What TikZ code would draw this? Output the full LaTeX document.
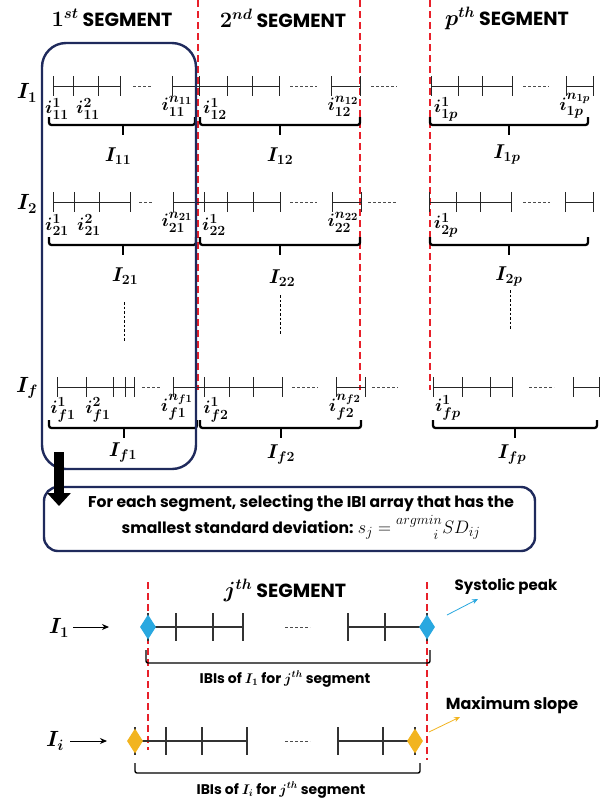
\RequirePackage{fix-cm}
\documentclass[tikz,border=0pt]{standalone}
\usepackage{amsmath}
\usepackage{fontspec}
\setmainfont{Poppins}
\usetikzlibrary{arrows.meta,shapes.geometric}
\DeclareMathSizes{18}{18}{14}{11}
\DeclareMathSizes{20}{20}{14}{11}
\DeclareMathSizes{22}{22}{15}{11}
\definecolor{navy}{HTML}{1F2A5C}
\definecolor{segred}{HTML}{E8202A}
\definecolor{dblue}{HTML}{29A8E0}
\definecolor{dyellow}{HTML}{F2B41F}
\tikzset{
  seg/.style={line width=0.7pt, black!85},
  gaps/.style={line width=0.7pt, black!70, dash pattern=on 3pt off 2pt},
  vdots/.style={line width=0.6pt, black, dash pattern=on 2.5pt off 2pt},
  bracestyle/.style={line width=2.3pt, rounded corners=2.5pt},
  redline/.style={segred, line width=1.6pt, dash pattern=on 7pt off 4pt},
  navybox/.style={draw=navy, line width=2.4pt},
  lab/.style={font=\fontsize{18}{18}\selectfont\boldmath, inner sep=0pt},
  big/.style={font=\fontsize{22}{22}\selectfont\boldmath, inner sep=0pt},
  mid/.style={font=\fontsize{20}{20}\selectfont\boldmath, inner sep=0pt},
  title/.style={font=\fontsize{19}{19}\selectfont\bfseries\boldmath, inner sep=0pt},
  small/.style={font=\fontsize{14}{14}\selectfont\bfseries\boldmath, inner sep=0pt},
  note/.style={font=\fontsize{15}{15}\selectfont\bfseries, inner sep=0pt},
  lseg/.style={line width=1.3pt, black!80},
  lgaps/.style={line width=0.8pt, black!70, dash pattern=on 3pt off 2pt},
  bracket/.style={line width=1.4pt, rounded corners=2pt},
  dia/.style={diamond, minimum width=16pt, minimum height=25pt, inner sep=0pt, draw=none},
}
% y, x-start, x-end, tick list
\newcommand\ibirun[4]{%
  \draw[seg] (#2,#1) -- (#3,#1);
  \foreach \xx in {#4} {\draw[seg] (\xx,{#1-10}) -- (\xx,{#1+10});}}
\newcommand\gapline[3]{\draw[gaps] (#2,#1) -- (#3,#1);}
% y, x1, x2, middle
\newcommand\ibrace[4]{%
  \draw[bracestyle] (#2,{#1-8}) -- (#2,#1) -- (#3,#1) -- (#3,{#1-8});
  \draw[line width=2.3pt] (#4,#1) -- (#4,{#1+10});}
\newcommand\lrun[4]{%
  \draw[lseg] (#2,#1) -- (#3,#1);
  \foreach \xx in {#4} {\draw[lseg] (\xx,{#1-14}) -- (\xx,{#1+14});}}
\newcommand\tmath[1]{{\fontsize{22}{22}\selectfont$#1$}}
\begin{document}
\begin{tikzpicture}[x=1pt,y=-1pt]
\useasboundingbox[fill=white] (0,0) rectangle (613,804);

% titles
\node[title] (t1) at (112,18) {\tmath{\mathbf{1}^{st}} SEGMENT};
\node[title] (t2) at (283,18) {\tmath{\mathbf{2}^{nd}} SEGMENT};
\node[title] (tp) at (507,18) {\tmath{p^{th}} SEGMENT};

% red separators
\draw[redline] (198,0) -- (198,390);
\draw[redline] (360,0) -- (360,390);
\draw[redline] (430,0) -- (430,390);

% row labels
\node[big] (I1) at (27,93) {$I_1$};
\node[big] (I2) at (27,204) {$I_2$};
\node[big] (If) at (27,388) {$I_f$};

% ---------- row 1 ----------
\ibirun{86}{53}{120}{53,73,98,120}
\gapline{86}{133}{152}
\ibirun{86}{172}{279}{172,199,227,252,279}
\gapline{86}{290}{317}
\ibirun{86}{331}{360}{331,360}
\gapline{86}{371}{397}
\ibirun{86}{431}{512}{431,458,482,512}
\gapline{86}{523}{549}
\ibirun{86}{566}{593}{566,593}

\node[lab] (i111) at (57,109) {$i_{11}^{1}$};
\node[lab] (i112) at (88,109) {$i_{11}^{2}$};
\node[lab] (i11n) at (177,106) {$i_{11}^{n_{11}}$};
\node[lab] (i121) at (215,109) {$i_{12}^{1}$};
\node[lab] (i12n) at (343,106) {$i_{12}^{n_{12}}$};
\node[lab] (i1p1) at (446,109) {$i_{1p}^{1}$};
\node[lab] (i1pn) at (575,106) {$i_{1p}^{n_{1p}}$};

\ibrace{125}{49}{195}{123}
\ibrace{125}{200}{360}{280}
\ibrace{125}{430}{588}{509}
\node[mid] (I11) at (118,156) {$I_{11}$};
\node[mid] (I12) at (280,156) {$I_{12}$};
\node[mid] (I1p) at (507,154) {$I_{1p}$};

% ---------- row 2 ----------
\ibirun{202}{53}{130}{53,74,99,130}
\gapline{202}{139}{153}
\ibirun{202}{173}{280}{173,204,227,253,280}
\gapline{202}{290}{317}
\ibirun{202}{332}{361}{332,361}
\gapline{202}{368}{396}
\ibirun{202}{429}{511}{429,456,480,511}
\gapline{202}{523}{550}
\ibirun{202}{565}{593}{565,593}

\node[lab] (i211) at (57,225) {$i_{21}^{1}$};
\node[lab] (i212) at (89,225) {$i_{21}^{2}$};
\node[lab] (i21n) at (177,222) {$i_{21}^{n_{21}}$};
\node[lab] (i221) at (214,225) {$i_{22}^{1}$};
\node[lab] (i22n) at (343,222) {$i_{22}^{n_{22}}$};
\node[lab] (i2p1) at (446,225) {$i_{2p}^{1}$};

\ibrace{245}{49}{196}{123}
\ibrace{245}{200}{360}{280}
\ibrace{245}{430}{588}{509}
\node[mid] (I21) at (125,276) {$I_{21}$};
\node[mid] (I22) at (282,278) {$I_{22}$};
\node[mid] (I2p) at (509,276) {$I_{2p}$};

\draw[vdots] (124,302) -- (124,342);
\draw[vdots] (280,295) -- (280,335);
\draw[vdots] (510,290) -- (510,330);

% ---------- row f ----------
\ibirun{387}{57}{134}{57,86,113,125,134}
\gapline{387}{142}{160}
\ibirun{387}{173}{282}{173,204,229,253,282}
\gapline{387}{292}{318}
\ibirun{387}{336}{365}{336,365}
\gapline{387}{372}{398}
\ibirun{387}{433}{512}{433,462,490,512}
\gapline{387}{529}{554}
\ibirun{387}{573}{599}{573,599}

\node[lab] (if11) at (63,410) {$i_{f1}^{1}$};
\node[lab] (if12) at (98,410) {$i_{f1}^{2}$};
\node[lab] (if1n) at (177,407) {$i_{f1}^{n_{f1}}$};
\node[lab] (if21) at (216,410) {$i_{f2}^{1}$};
\node[lab] (if2n) at (345,407) {$i_{f2}^{n_{f2}}$};
\node[lab] (ifp1) at (448,408) {$i_{fp}^{1}$};

\ibrace{428}{49}{197}{124}
\ibrace{428}{200}{361}{281}
\ibrace{428}{433}{597}{515}
\node[mid] (If1) at (123,452) {$I_{f1}$};
\node[mid] (If2) at (281,454) {$I_{f2}$};
\node[mid] (Ifp) at (512,454) {$I_{fp}$};

% ---------- boxes ----------
\node[navybox, rounded corners=24pt, minimum width=154pt, minimum height=426pt] (segbox) at (119,256) {};
\node[navybox, rounded corners=14pt, minimum width=491pt, minimum height=64pt] (selbox) at (289.5,519) {};
\node[font=\fontsize{15.6}{26}\selectfont\bfseries, align=center, inner sep=0pt] (seltext) at (301,517)
  {For each segment, selecting the IBI array that has the\\
   smallest standard deviation: {\fontsize{18}{18}\selectfont$s_j={}^{argmin}_{\hphantom{argmi}i}SD_{ij}$}};
\coordinate (arrS) at (59,452);
\coordinate (arrE) at (59,506);
\draw[line width=10pt, -{Triangle[width=23pt,length=13pt]}] (arrS) -- (arrE);

% ---------- lower part ----------
\node[title] (jseg) at (285,590) {\tmath{j^{th}} SEGMENT};
\draw[redline, line width=1.4pt] (148,582) -- (148,750);
\draw[redline, line width=1.4pt] (427,582) -- (427,760);

\node[big] (L1) at (59,628) {$I_1$};
\coordinate (a1) at (109,627);
\draw[-{Stealth[length=7pt,width=6pt]}, line width=0.9pt] ([xshift=4pt]L1.east |- a1) -- (a1);
\lrun{627}{148}{243}{148,176,213,243}
\draw[lgaps] (285,627) -- (310,627);
\lrun{627}{348}{427}{348,385,427}
\node[dia, fill=dblue] (d1l) at (148,627) {};
\node[dia, fill=dblue] (d1r) at (427,627) {};
\node[note] (sys) at (506,586) {Systolic peak};
\coordinate (sysA) at (447,615);
\coordinate (sysB) at (478,599);
\draw[dblue, line width=0.8pt, -{Stealth[length=6pt,width=5pt]}] (sysA) -- (sysB);
\draw[bracket] (146,650) -- (146,663) -- (430,663) -- (430,650);
\node[small] (ibi1) at (285,679) {IBIs of $I_1$ for $j^{th}$ segment};

\node[note, font=\fontsize{16}{16}\selectfont\bfseries] (maxs) at (512,705) {Maximum slope};
\node[big] (Li) at (55,741) {$I_i$};
\coordinate (ai) at (107,741);
\draw[-{Stealth[length=7pt,width=6pt]}, line width=0.9pt] ([xshift=6pt]Li.east |- ai) -- (ai);
\lrun{741}{135}{247}{135,166,202,247}
\draw[lgaps] (285,741) -- (310,741);
\lrun{741}{338}{415}{338,383,415}
\node[dia, fill=dyellow] (dil) at (135,741) {};
\node[dia, fill=dyellow] (dir) at (415,741) {};
\coordinate (maxA) at (429,732);
\coordinate (maxB) at (460,717);
\draw[dyellow, line width=0.8pt, -{Stealth[length=6pt,width=5pt]}] (maxA) -- (maxB);
\draw[bracket] (135,763) -- (135,773) -- (420,773) -- (420,763);
\node[small] (ibii) at (281,790) {IBIs of $I_i$ for $j^{th}$ segment};
\end{tikzpicture}
\end{document}
